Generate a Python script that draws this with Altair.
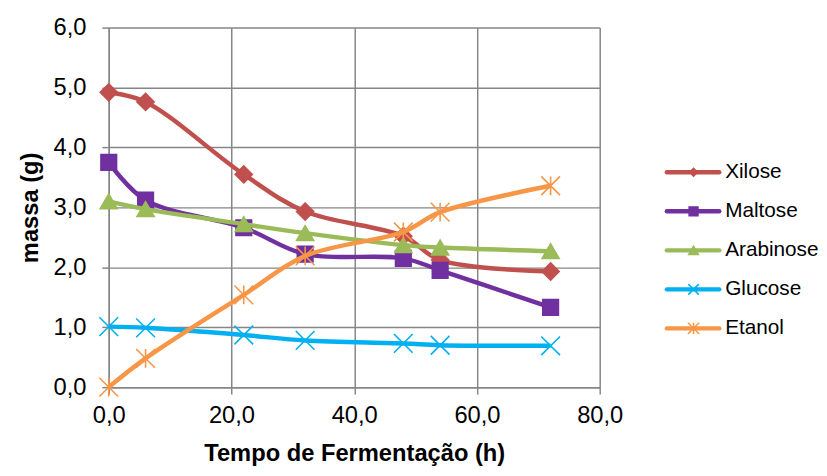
import altair as alt
import pandas as pd

# ---- data ----
tempo = [0, 6, 22, 32, 48, 54, 72]
series_names = ["Xilose", "Maltose", "Arabinose", "Glucose", "Etanol"]
xilose = [4.92, 4.76, 3.55, 2.93, 2.52, 2.12, 1.93]
maltose = [3.75, 3.12, 2.66, 2.22, 2.15, 1.95, 1.33]
arabinose = [3.10, 2.97, 2.72, 2.57, 2.37, 2.33, 2.27]
glucose = [1.01, 0.99, 0.87, 0.78, 0.73, 0.70, 0.69]
etanol = [0.00, 0.48, 1.54, 2.19, 2.59, 2.92, 3.36]
x_ticks = [0, 20, 40, 60, 80]
y_ticks = [0, 1, 2, 3, 4, 5, 6]

colors = ["#C0504D", "#7030A0", "#9BBB59", "#00B0F0", "#F79646"]
X_PATH = "M-1,-1L1,1M-1,1L1,-1"
STAR_PATH = "M-1,-1L1,1M-1,1L1,-1M0,-1L0,1"
shapes = ["diamond", "square", "triangle-up", X_PATH, STAR_PATH]
sizes = [300, 250, 300, 360, 360]
legend_sizes = [64, 130, 110, 64, 80]

values = [xilose, maltose, arabinose, glucose, etanol]

FONT = "Liberation Sans"
GRID = "#868686"

rows = []
for name, vals in zip(series_names, values):
    for t, v in zip(tempo, vals):
        rows.append({"serie": name, "tempo": t, "massa": v})
df = pd.DataFrame(rows)

x_enc = alt.X(
    "tempo:Q",
    scale=alt.Scale(domain=[0, 80], nice=False, zero=False),
    axis=alt.Axis(
        values=x_ticks,
        labelExpr="replace(format(datum.value, '.1f'), '.', ',')",
        labelFlush=False,
        title="Tempo de Fermentação (h)",
        labelFontSize=24, labelFont=FONT, labelColor="black", labelPadding=10,
        titleFontSize=24, titleFont=FONT, titleFontWeight="bold", titleColor="black",
        titlePadding=14,
        tickSize=7, tickColor=GRID, tickWidth=1.5,
        domainColor=GRID, domainWidth=1.5,
        gridColor=GRID, gridWidth=1.5,
    ),
)
y_enc = alt.Y(
    "massa:Q",
    scale=alt.Scale(domain=[0, 6], nice=False),
    axis=alt.Axis(
        values=y_ticks,
        labelExpr="replace(format(datum.value, '.1f'), '.', ',')",
        labelFlush=False,
        title="massa (g)",
        labelFontSize=24, labelFont=FONT, labelColor="black", labelPadding=16,
        titleFontSize=24, titleFont=FONT, titleFontWeight="bold", titleColor="black",
        titlePadding=11,
        tickSize=7, tickColor=GRID, tickWidth=1.5,
        domainColor=GRID, domainWidth=1.5,
        gridColor=GRID, gridWidth=1.5,
    ),
)

layers = []
for i, name in enumerate(series_names):
    base = alt.Chart(df).transform_filter(alt.datum.serie == name)
    line = base.mark_line(
        color=colors[i], strokeWidth=4.5, interpolate="catmull-rom"
    ).encode(x=x_enc, y=y_enc)
    pts = base.mark_point(
        filled=True, fill=colors[i], stroke=colors[i], strokeWidth=1.6,
        opacity=1, size=sizes[i], shape=shapes[i]
    ).encode(x=x_enc, y=y_enc)
    layers += [line, pts]

main = alt.layer(*layers).properties(width=497, height=364)

# ---- legend (own scales, one row per series) ----
leg_df = pd.DataFrame({"serie": series_names, "ordem": list(range(len(series_names)))})
leg_y = alt.Y(
    "ordem:Q",
    scale=alt.Scale(domain=[0, len(series_names) - 1], range=[146.5, 304.5], nice=False, zero=False),
    axis=None,
)
leg_color = alt.Color("serie:N", scale=alt.Scale(domain=series_names, range=colors), legend=None)
leg_stroke = alt.Stroke("serie:N", scale=alt.Scale(domain=series_names, range=colors), legend=None)
leg_line = alt.Chart(leg_df).mark_rule(strokeWidth=4.5, strokeCap="round").encode(
    x=alt.value(2), x2=alt.value(55), y=leg_y, color=leg_color
)
leg_pt = alt.Chart(leg_df).mark_point(filled=True, opacity=1, strokeWidth=1.5).encode(
    x=alt.value(29), y=leg_y, color=leg_color, stroke=leg_stroke,
    shape=alt.Shape("serie:N", scale=alt.Scale(domain=series_names, range=shapes), legend=None),
    size=alt.Size("serie:N", scale=alt.Scale(domain=series_names, range=legend_sizes), legend=None),
)
leg_txt = alt.Chart(leg_df).mark_text(
    align="left", baseline="middle", fontSize=21, font=FONT, color="black"
).encode(x=alt.value(61), y=leg_y, text="serie:N")
legend = alt.layer(leg_line, leg_pt, leg_txt).properties(width=150, height=364)

chart = alt.hconcat(main, legend, spacing=66, bounds="flush").properties(
    padding={"left": 10, "top": 5, "right": 0, "bottom": 0},
    background="white",
).configure_view(strokeWidth=0, stroke="transparent")

chart.save("out.html", embed_options={"renderer": "svg", "actions": False})
